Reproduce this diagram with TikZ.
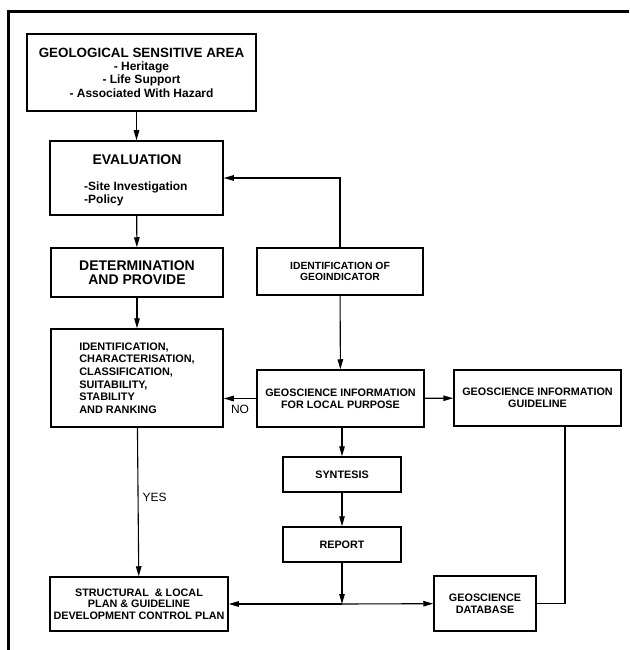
\documentclass[tikz,border=0pt]{standalone}
\usepackage{fontspec}
\setmainfont{Liberation Sans}
\usetikzlibrary{positioning,arrows.meta}

\begin{document}
\begin{tikzpicture}[x=1pt, y=-1pt,
  box/.style={draw, line width=1.5pt, inner sep=1pt, align=center,
    font=\bfseries\fontsize{10.8}{11.6}\selectfont},
  arr/.style={line width=1.1pt, -{Triangle[length=10pt,width=5.5pt]}},
  lbl/.style={inner sep=0pt, font=\fontsize{12}{14}\selectfont}]
\useasboundingbox (0,0) rectangle (629,650);
% Frame
\draw[line width=3pt] (8,650) -- (8,12) -- (629,12);
% Left column
\node[box, minimum width=229pt, minimum height=77pt, font=\bfseries\fontsize{12}{13.3}\selectfont] (gsa) at (141.5,72.5)
  {{\fontsize{13.4}{13.3}\selectfont GEOLOGICAL SENSITIVE AREA}\\- Heritage\\- Life Support\\- Associated With Hazard};
\node[box, minimum width=173pt, minimum height=74pt] (eval) at (136.5,178) {};
\node[lbl, font=\bfseries\fontsize{14}{14}\selectfont] (evaltitle) at (137,160) {EVALUATION};
\node[lbl, anchor=north west, align=left, font=\bfseries\fontsize{12}{13.5}\selectfont] (evallist) at (84,181.5) {-Site Investigation\\-Policy};
\node[box, minimum width=172pt, minimum height=49pt, font=\bfseries\fontsize{14}{14}\selectfont] (det) at (137,272.5) {DETERMINATION\\AND PROVIDE};
\node[box, minimum width=172pt, minimum height=98pt, align=left, font=\bfseries\fontsize{10.9}{12.7}\selectfont] (idc) at (137,378)
  {IDENTIFICATION,\\CHARACTERISATION,\\CLASSIFICATION,\\SUITABILITY,\\STABILITY\\AND RANKING};
\node[box, minimum width=178pt, minimum height=54pt] (struct) at (139,604)
  {STRUCTURAL\ \ \& LOCAL\\PLAN \& GUIDELINE\\DEVELOPMENT CONTROL PLAN};
% Middle column
\node[box, minimum width=166pt, minimum height=47pt, font=\bfseries\fontsize{10.4}{11.2}\selectfont] (idgeo) at (340,271.5) {IDENTIFICATION OF\\GEOINDICATOR};
\node[box, minimum width=167pt, minimum height=57pt] (gil) at (340.5,398.5) {GEOSCIENCE INFORMATION\\FOR LOCAL PURPOSE};
\node[box, minimum width=118pt, minimum height=35pt] (syn) at (342,474.5) {SYNTESIS};
\node[box, minimum width=118pt, minimum height=35pt] (rep) at (342,544.5) {REPORT};
\coordinate (join) at (342,604);
% Right column
\node[box, minimum width=167pt, minimum height=56pt] (gig) at (537.5,398) {GEOSCIENCE INFORMATION\\GUIDELINE};
\node[box, minimum width=102pt, minimum height=55pt] (db) at (485,603.5) {GEOSCIENCE\\DATABASE};
\coordinate (gigout) at (565,426);

% Edges
\draw[arr] (gsa.south -| eval.north) -- (eval.north);
\draw[arr] (eval) -- (det);
\draw[arr] (det) -- (idc);
\draw[arr] (idc) -- node[lbl, right=4pt, pos=0.47] (yes) {YES} (struct);
\draw[arr] (idgeo.north) |- (eval.east);
\draw[arr] (idgeo) -- (gil);
\draw[arr] (gil.west) -- node[lbl, below=6pt] (no) {NO} (gil.west -| idc.east);
\draw[arr] (gil) -- (gig);
\draw[arr] (gil.south -| syn.north) -- (syn);
\draw[arr] (syn) -- (rep);
\draw[arr] (rep) -- (join);
\draw[arr] (join) -- (struct);
\draw[arr] (join) -- (db);
\draw[line width=1.1pt] (gigout) |- (db.east);
\end{tikzpicture}
\end{document}
